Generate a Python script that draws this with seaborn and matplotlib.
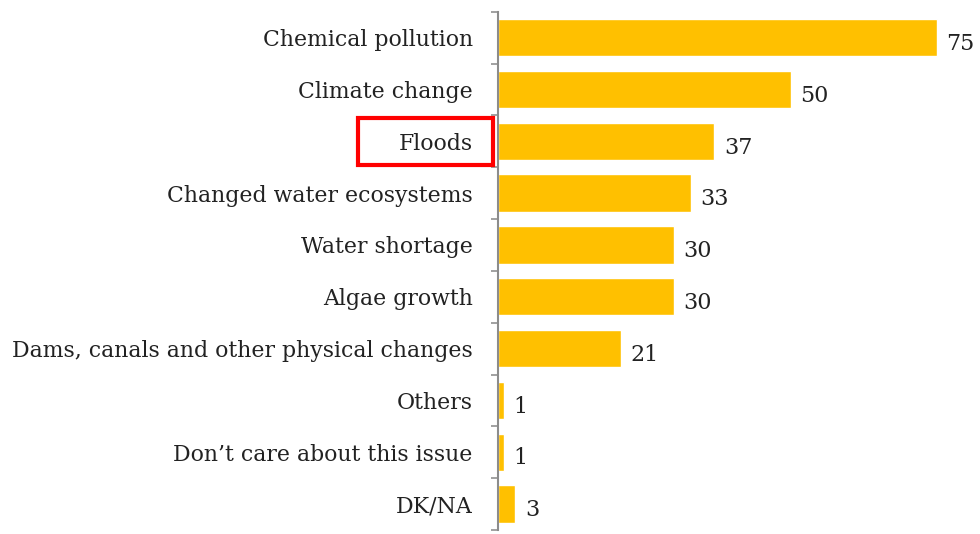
import numpy as np
import pandas as pd
import matplotlib
matplotlib.use("Agg")
import matplotlib.pyplot as plt
import matplotlib.transforms as mtrans
from matplotlib.patches import Rectangle
import seaborn as sns

sns.set_style("white")
plt.rcParams['font.family'] = ['DejaVu Serif']

issues = ['Chemical pollution', 'Climate change', 'Floods', 'Changed water ecosystems',
          'Water shortage', 'Algae growth', 'Dams, canals and other physical changes',
          'Others', "Don\u2019t care about this issue", 'DK/NA']
values = [75, 50, 37, 33, 30, 30, 21, 1, 1, 3]
highlight = 'Floods'

df = pd.DataFrame({'issue': issues, 'value': values})

fig = plt.figure(figsize=(9.8, 5.34), dpi=100)
ax = fig.add_axes([0.508, 0.0075, 0.478, 0.9705])
sns.barplot(data=df, y='issue', x='value', color='#FFC000', saturation=1,
            width=0.72, orient='h', ax=ax)

ax.set_xlim(0, 80)
ax.set_ylim(len(issues) - 0.5, -0.5)
for s in ['top', 'right', 'bottom']:
    ax.spines[s].set_visible(False)
ax.spines['left'].set_color('#8c8c8c')
ax.spines['left'].set_linewidth(1.5)
ax.set_xticks([])
ax.set_xlabel('')
ax.set_ylabel('')
ax.tick_params(axis='y', which='major', left=True, length=0, pad=18,
               labelsize=15.8, labelcolor='#222222')
ax.set_yticks(np.arange(-0.5, len(issues)), minor=True)
ax.tick_params(axis='y', which='minor', left=True, length=5, width=1.3, color='#9a9a9a')

for i, v in enumerate(values):
    ax.text(v + 1.6, i + 0.12, str(v), va='center', ha='left', fontsize=16, color='#222222')

# red box round the highlighted label
k = issues.index(highlight)
trans = mtrans.blended_transform_factory(ax.transAxes, ax.transData)
ax.add_patch(Rectangle((-0.298, k - 0.45), 0.287, 0.9, transform=trans, fill=False,
                       edgecolor='#ff0000', linewidth=3, clip_on=False))

fig.savefig('out.png', dpi=100)
